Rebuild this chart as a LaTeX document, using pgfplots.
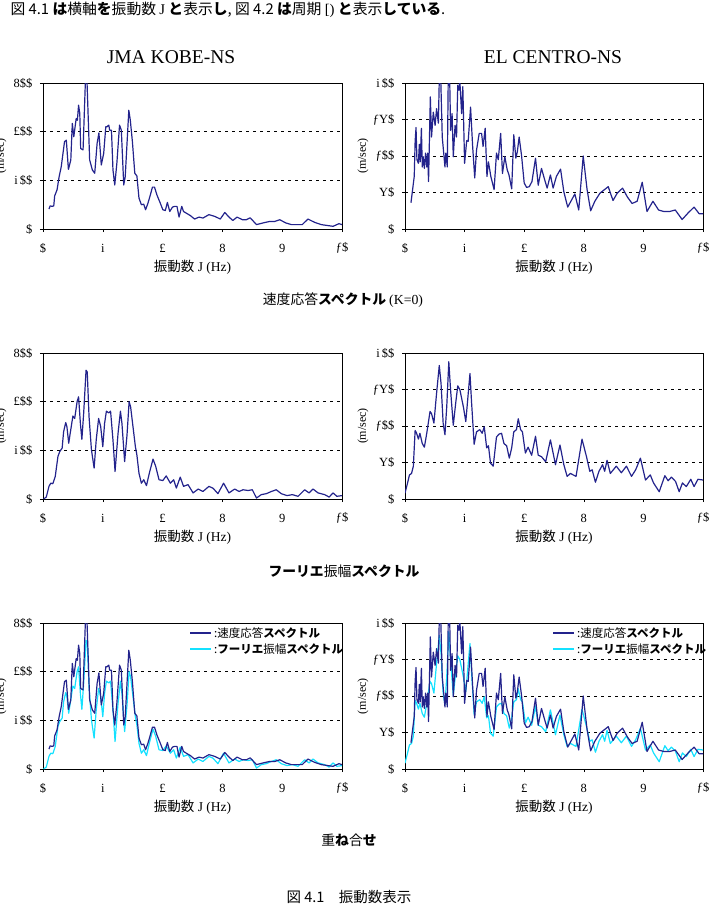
\documentclass[border=0pt]{standalone}
\usepackage{fontspec}
\setmainfont{Liberation Serif}
\newfontfamily\jp{Noto Sans CJK JP}
\usepackage{pgfplots}
\usepackage{pgfplotstable}
\pgfplotsset{compat=1.18}

\definecolor{velblue}{RGB}{35,35,140}
\definecolor{fourcyan}{RGB}{20,225,255}

% JMA KOBE-NS, velocity response spectrum
\pgfplotstableread{
f v
0.20 82
0.24 95
0.30 93
0.36 95
0.39 136
0.47 161
0.54 215
0.61 256
0.72 359
0.78 365
0.85 245
0.93 284
0.98 434
1.03 379
1.11 454
1.15 447
1.19 509
1.23 475
1.26 331
1.34 325
1.42 615
1.47 612
1.56 284
1.65 243
1.73 229
1.81 352
1.87 395
1.95 263
2.03 311
2.10 420
2.14 420
2.20 427
2.23 406
2.29 406
2.34 243
2.40 181
2.47 270
2.56 427
2.62 406
2.70 181
2.75 215
2.87 488
2.92 447
2.99 359
3.07 229
3.14 218
3.21 127
3.29 100
3.37 102
3.43 79
3.51 106
3.59 140
3.66 172
3.73 172
3.81 140
3.90 113
4.01 79
4.09 76
4.16 109
4.24 72
4.33 90
4.40 93
4.48 93
4.55 49
4.64 93
4.70 72
4.82 63
4.93 55
5.07 41
5.22 49
5.35 45
5.55 59
5.74 52
5.93 41
6.08 68
6.22 49
6.35 35
6.49 49
6.67 38
6.80 38
6.93 46
7.14 18
7.36 25
7.58 31
7.75 31
7.92 38
8.12 25
8.31 18
8.53 18
8.67 18
8.86 41
9.09 27
9.31 18
9.53 14
9.70 11
9.90 22
10.0 18
}\kobeVel

% JMA KOBE-NS, Fourier amplitude spectrum
\pgfplotstableread{
f v
0.02 0
0.11 8
0.20 52
0.26 65
0.33 63
0.41 93
0.50 175
0.56 195
0.64 209
0.69 277
0.76 314
0.80 297
0.86 229
0.91 270
1.00 341
1.06 331
1.14 400
1.19 420
1.25 311
1.30 245
1.36 352
1.44 529
1.48 522
1.54 338
1.62 202
1.71 127
1.78 243
1.86 331
1.93 297
2.00 215
2.06 311
2.12 361
2.20 354
2.26 361
2.34 243
2.41 113
2.51 270
2.59 361
2.64 311
2.73 154
2.81 263
2.88 400
2.93 379
3.01 297
3.09 215
3.14 181
3.21 106
3.29 65
3.37 79
3.46 55
3.57 113
3.68 164
3.77 134
3.88 79
4.01 76
4.12 95
4.26 65
4.37 79
4.46 45
4.59 90
4.70 52
4.85 59
5.02 25
5.19 41
5.35 31
5.55 52
5.69 44
5.85 22
6.04 65
6.22 25
6.41 41
6.56 31
6.69 38
6.86 35
7.00 38
7.14 4
7.30 18
7.47 22
7.64 31
7.80 38
7.97 22
8.16 14
8.34 18
8.53 11
8.75 38
8.90 25
9.03 41
9.20 25
9.42 18
9.57 8
9.70 25
9.83 11
10.0 14
}\kobeFour

% EL CENTRO-NS, velocity response spectrum
\pgfplotstableread{
f v
0.20 36
0.31 72
0.34 120
0.37 139
0.40 95
0.45 90
0.48 116
0.51 92
0.55 138
0.58 85
0.61 99
0.65 83
0.69 104
0.73 85
0.76 104
0.79 65
0.85 181
0.89 126
0.95 160
1.01 142
1.06 165
1.12 145
1.15 205
1.20 205
1.25 126
1.31 99
1.34 85
1.37 104
1.42 85
1.45 205
1.50 205
1.53 135
1.58 158
1.62 99
1.68 142
1.73 126
1.77 197
1.81 190
1.84 203
1.90 158
1.94 195
2.00 90
2.07 121
2.12 120
2.20 167
2.27 113
2.34 70
2.40 108
2.49 131
2.57 131
2.62 113
2.69 138
2.75 72
2.80 92
2.88 72
2.99 54
3.07 104
3.13 95
3.21 131
3.27 76
3.35 99
3.43 81
3.49 74
3.58 55
3.65 129
3.72 97
3.77 106
3.83 126
3.91 101
4.00 63
4.08 57
4.17 58
4.26 65
4.38 97
4.47 60
4.58 83
4.69 67
4.77 56
4.88 74
4.97 56
5.08 72
5.22 82
5.33 51
5.46 30
5.70 48
5.83 26
5.98 100
6.11 54
6.23 25
6.37 38
6.54 49
6.82 58
6.98 39
7.12 49
7.30 56
7.46 44
7.62 35
7.79 38
7.96 64
8.12 24
8.32 38
8.51 26
8.68 24
8.88 24
9.07 26
9.30 13
9.50 22
9.70 30
9.87 21
10.0 21
}\centroVel

% EL CENTRO-NS, Fourier amplitude spectrum
\pgfplotstableread{
f v
0.00 8
0.08 21
0.15 33
0.22 35
0.28 45
0.34 94
0.39 90
0.45 82
0.50 90
0.58 76
0.65 71
0.73 90
0.84 120
0.89 117
0.97 104
1.06 145
1.15 183
1.21 158
1.28 104
1.34 88
1.40 126
1.47 188
1.53 149
1.62 101
1.70 131
1.77 155
1.84 150
1.96 126
2.04 106
2.18 172
2.23 135
2.32 75
2.40 92
2.51 95
2.59 90
2.66 99
2.74 70
2.80 73
2.87 49
2.96 45
3.07 85
3.16 89
3.24 90
3.32 76
3.41 73
3.50 56
3.58 70
3.65 92
3.74 95
3.80 110
3.88 95
3.94 92
4.04 63
4.13 71
4.25 60
4.38 86
4.47 60
4.58 58
4.72 51
4.88 81
5.05 47
5.20 74
5.33 47
5.44 31
5.55 35
5.74 31
5.94 82
6.09 58
6.20 38
6.28 40
6.39 23
6.51 38
6.63 47
6.70 38
6.78 53
6.89 35
7.09 45
7.26 36
7.43 45
7.60 31
7.74 40
7.90 56
8.07 26
8.23 33
8.34 22
8.53 10
8.72 32
8.83 25
8.94 30
9.08 24
9.20 10
9.31 22
9.44 17
9.59 27
9.70 17
9.83 27
10.0 26
}\centroFour

\pgfplotsset{
  spec/.style={
    scale only axis, width=299pt, height=146pt,
    xmin=0, xmax=10, xtick={0,2,4,6,8,10},
    xticklabels={\$, i, £, 8, 9, ƒ\$},
    ymin=0,
    /pgf/number format/assume math mode=true,
    tick align=outside, tick pos=left,
    major tick length=3pt,
    axis line style={line width=0.8pt},
    tick style={black, line width=0.6pt},
    ymajorgrids,
    major grid style={black, line width=0.5pt, dash pattern=on 3pt off 4pt},
    ticklabel style={font=\fontsize{12.5}{12.5}\selectfont},
    xticklabel style={anchor=center, yshift=-16pt},
    yticklabel style={anchor=east, xshift=-4pt},
    xlabel={{\jp 振動数} J (Hz)},
    xlabel style={at={(axis description cs:0.5,0)}, anchor=center,
      yshift=-38pt, font=\fontsize{13.5}{13.5}\selectfont},
    every axis plot/.append style={line width=1.2pt, line join=round},
    legend style={draw=none, fill=none, anchor=north west,
      font=\fontsize{11.5}{13}\selectfont, row sep=1pt, inner sep=0pt},
    legend cell align=left,
    legend image code/.code={\draw[line width=2pt] (0pt,0pt) -- (21pt,0pt);},
  },
  kobe/.style={ymax=600, ytick={0,200,400,600},
    yticklabels={\$, i\,\$\$, £\$\$, 8\$\$}},
  centro/.style={ymax=200, ytick={0,50,100,150,200},
    yticklabels={\$, Y\$, ƒ\$\$, ƒY\$, i\,\$\$}},
}

\newcommand{\velleg}{{\jp :速度応答{\bfseries スペクトル}}}
\newcommand{\fouleg}{{\jp :{\bfseries フーリエ}振幅{\bfseries スペクトル}}}

\begin{document}
\begin{tikzpicture}[x=1pt,y=1pt]
\useasboundingbox (0pt,0pt) rectangle (713pt,-907pt);

% header line
\node[anchor=west, font=\jp\fontsize{14.8}{15}\selectfont] at (7pt,-10pt)
  {図 4.1 {\bfseries は}横軸{\bfseries を}振動数 {\rmfamily J} {\bfseries と}表示{\bfseries し}, 図 4.2 {\bfseries は}周期 {\rmfamily [)} {\bfseries と}表示{\bfseries している}.};

% record names
\node[font=\fontsize{19.5}{19.5}\selectfont] at (171pt,-57pt) {JMA KOBE-NS};
\node[font=\fontsize{19.5}{19.5}\selectfont] at (553pt,-57pt) {EL CENTRO-NS};

% row 1: velocity response spectra
\begin{axis}[spec, kobe, at={(43pt,-229pt)}, anchor=south west]
  \addplot[velblue] table[x=f, y=v] {\kobeVel};
\end{axis}
\begin{axis}[spec, centro, width=298pt, at={(405pt,-229pt)}, anchor=south west]
  \addplot[velblue] table[x=f, y=v] {\centroVel};
\end{axis}
\node[font=\jp\fontsize{13.8}{14}\selectfont] at (343pt,-300pt)
  {速度応答{\bfseries スペクトル} {\rmfamily (K=0)}};

% row 2: Fourier amplitude spectra
\begin{axis}[spec, kobe, at={(43pt,-499pt)}, anchor=south west]
  \addplot[velblue] table[x=f, y=v] {\kobeFour};
\end{axis}
\begin{axis}[spec, centro, width=298pt, at={(405pt,-499pt)}, anchor=south west]
  \addplot[velblue] table[x=f, y=v] {\centroFour};
\end{axis}
\node[font=\jp\fontsize{13.8}{14}\selectfont] at (344pt,-571pt)
  {{\bfseries フーリエ}振幅{\bfseries スペクトル}};

% row 3: both spectra together
\begin{axis}[spec, kobe, at={(43pt,-769pt)}, anchor=south west,
    legend style={at={(rel axis cs:0.488,0.985)}}]
  \addlegendimage{color=velblue}\addlegendentry{\velleg}
  \addlegendimage{color=fourcyan}\addlegendentry{\fouleg}
  \addplot[fourcyan, forget plot] table[x=f, y=v] {\kobeFour};
  \addplot[velblue, forget plot] table[x=f, y=v] {\kobeVel};
\end{axis}
\begin{axis}[spec, centro, width=298pt, at={(405pt,-769pt)}, anchor=south west,
    legend style={at={(rel axis cs:0.493,0.985)}}]
  \addlegendimage{color=velblue}\addlegendentry{\velleg}
  \addlegendimage{color=fourcyan}\addlegendentry{\fouleg}
  \addplot[fourcyan, forget plot] table[x=f, y=v] {\centroFour};
  \addplot[velblue, forget plot] table[x=f, y=v] {\centroVel};
\end{axis}
\node[font=\jp\fontsize{13.8}{14}\selectfont] at (349pt,-840pt)
  {重{\bfseries ね}合{\bfseries せ}};

% y-axis labels
\foreach \yy in {-156,-426,-696} {
  \node[rotate=90, font=\fontsize{12}{12}\selectfont] at (1pt,\yy pt) {(m/sec)};
  \node[rotate=90, font=\fontsize{12}{12}\selectfont] at (363pt,\yy pt) {(m/sec)};
}

\node[font=\jp\fontsize{14.5}{15}\selectfont] at (349pt,-897pt)
  {図 4.1\quad 振動数表示};
\end{tikzpicture}
\end{document}
